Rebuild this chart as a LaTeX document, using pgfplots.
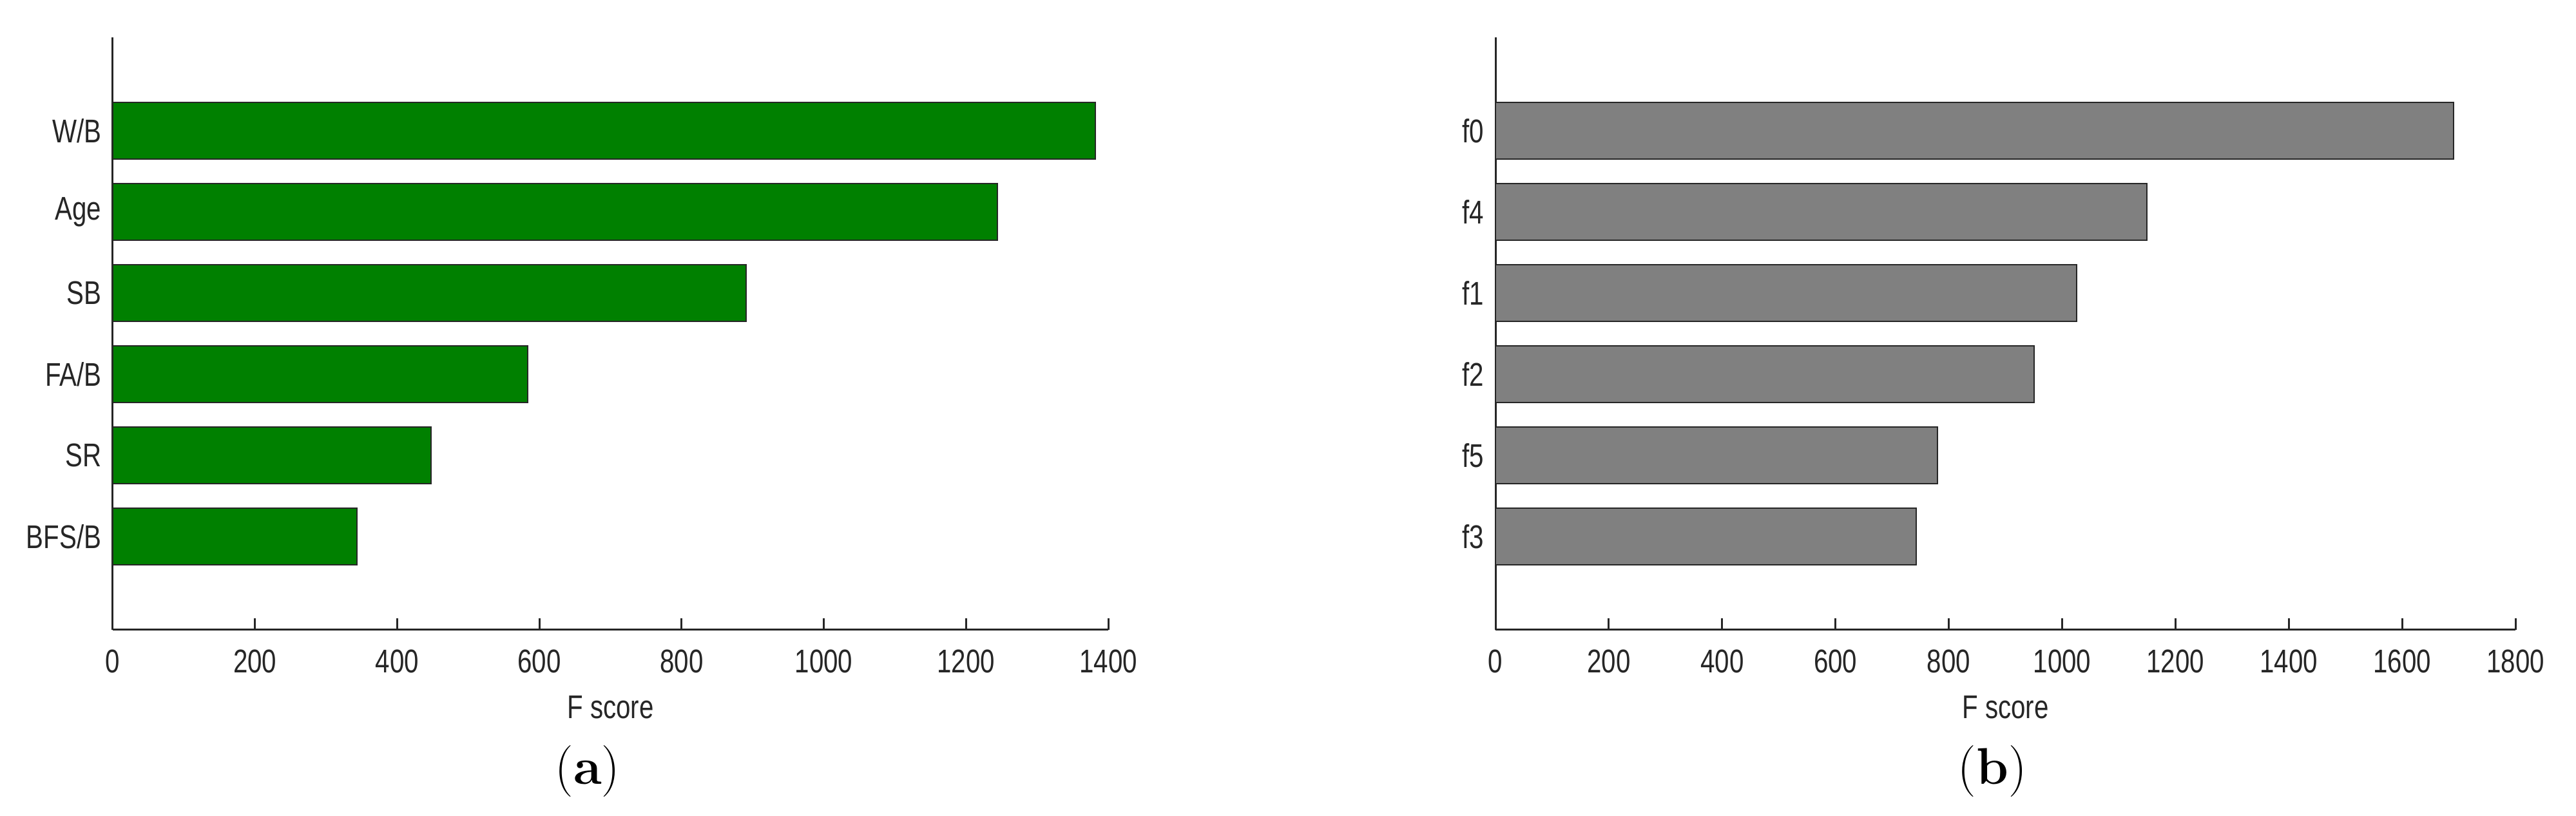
\documentclass[border=0pt]{standalone}
\usepackage{fontspec}
\usepackage{pgfplots}
\pgfplotsset{compat=1.18}
\newfontfamily\arial[FakeStretch=0.79]{Liberation Sans}
\definecolor{bargreen}{RGB}{0,128,0}
\definecolor{bargray}{RGB}{128,128,128}
\definecolor{axgray}{RGB}{38,38,38}

\pgfplotsset{
  fimp/.style={
    scale only axis,
    anchor=south west,
    height=184pt,
    xbar,
    bar width=0.7,
    ymin=-1.15, ymax=6.15,
    xmin=0,
    ytick={0,1,2,3,4,5},
    axis x line=bottom,
    axis y line=left,
    axis line style={-, line width=0.6pt, axgray},
    every tick/.style={line width=0.6pt, axgray},
    xtick align=inside,
    ytick align=inside,
    major tick length=3.5pt,
    tick label style={font=\arial\fontsize{10.2}{12}\selectfont, text=axgray},
    /pgf/number format/assume math mode=true,
    /pgf/number format/1000 sep={},
    xticklabel shift=2.6pt,
    xlabel={F score},
    xlabel style={font=\arial\fontsize{10.2}{12}\selectfont, text=axgray,
      at={(axis description cs:0.5,0)}, anchor=base, yshift=-27.6pt},
  }
}

\begin{document}
\begin{tikzpicture}
  \path[use as bounding box] (0,0) rectangle (799.6pt,253.4pt);

  % (a) original feature names
  \begin{axis}[fimp,
      at={(35pt,57.8pt)},
      width=309pt,
      xmax=1400,
      xtick={0,200,...,1400},
      yticklabels={BFS/B,SR,FA/B,SB,Age,W/B},
    ]
    \addplot[fill=bargreen, draw=black!85, line width=0.4pt]
      coordinates {(343,0) (448,1) (584,2) (891,3) (1244,4) (1382,5)};
  \end{axis}

  % (b) generic feature names
  \begin{axis}[fimp,
      at={(464.2pt,57.8pt)},
      width=316.6pt,
      xmax=1800,
      xtick={0,200,...,1800},
      yticklabels={f3,f5,f2,f1,f4,f0},
    ]
    \addplot[fill=bargray, draw=black!85, line width=0.4pt]
      coordinates {(742,0) (780,1) (950,2) (1026,3) (1149,4) (1691,5)};
  \end{axis}

  \node[anchor=base, font=\fontsize{16}{18}\selectfont] at (182.4pt,9.8pt) {(\textbf{a})};
  \node[anchor=base, font=\fontsize{16}{18}\selectfont] at (618.4pt,9.8pt) {(\textbf{b})};
\end{tikzpicture}
\end{document}
